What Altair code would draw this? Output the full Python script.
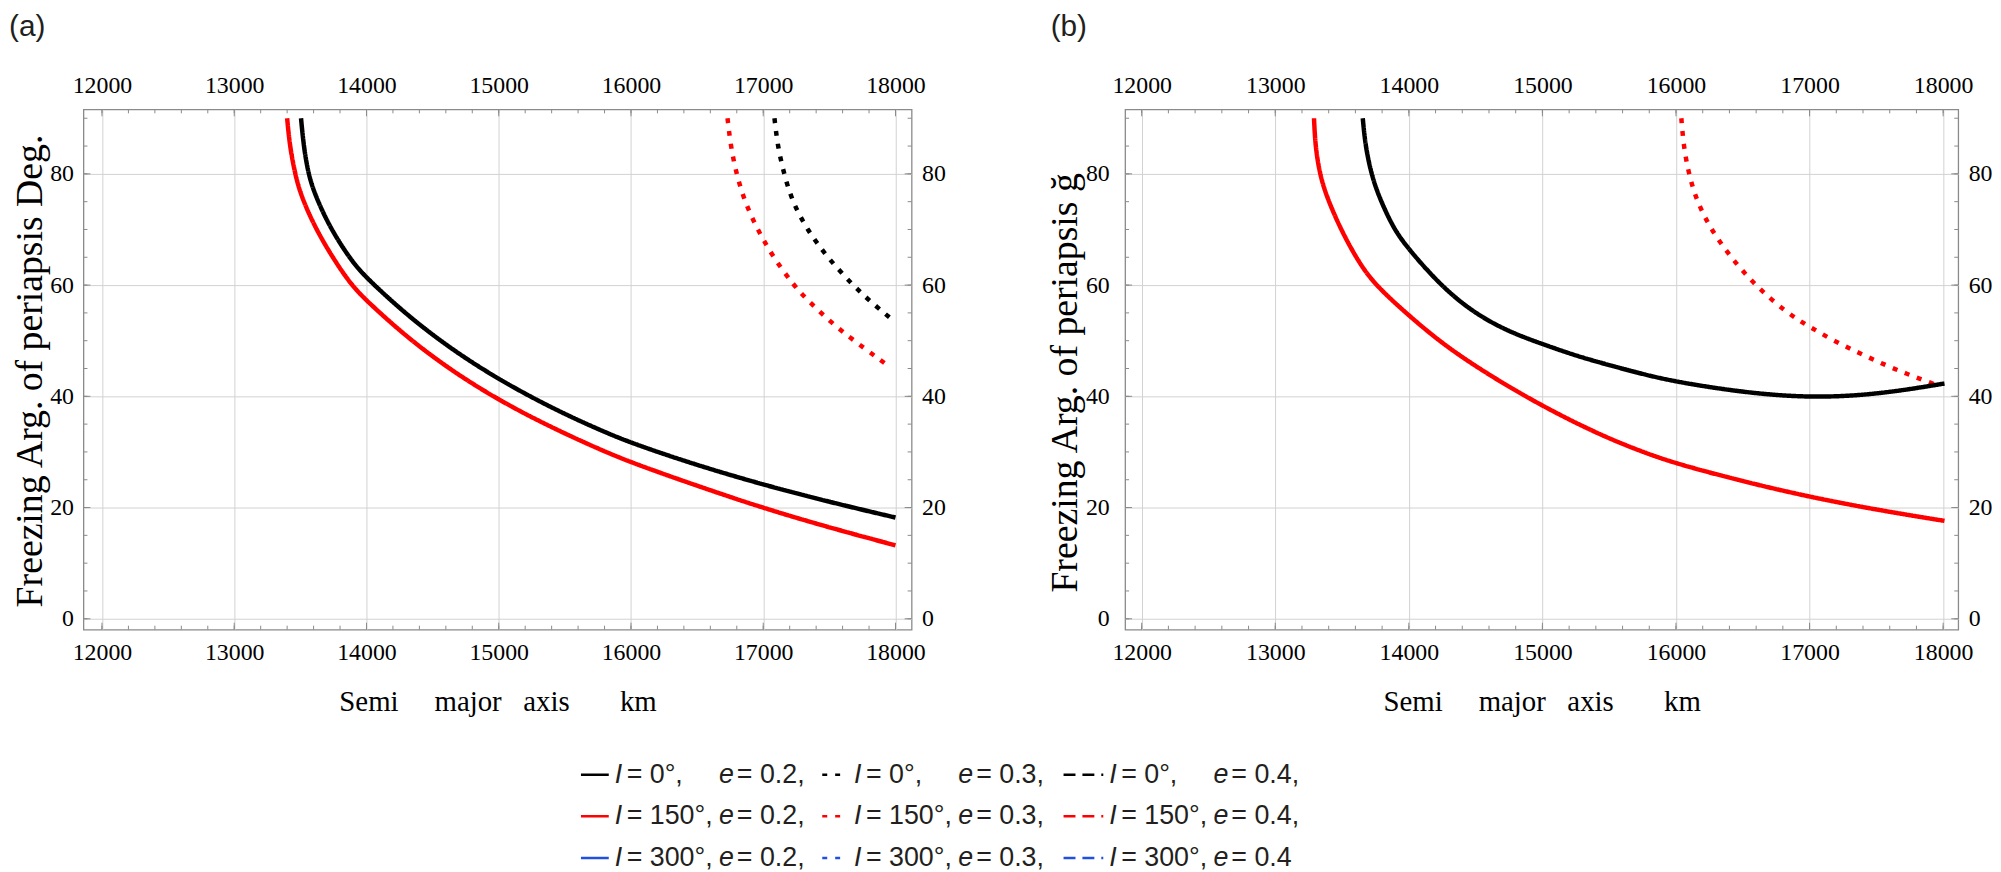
import altair as alt
import pandas as pd

# ---------------- data ----------------
# Panel (a): I = 0 deg / 150 deg, e = 0.2 (solid) and e = 0.3 (dotted)
a_I0_e02_x = [13505, 13525, 13560, 13611, 13724, 13887, 14000, 14250, 14500, 14750, 15000, 15250, 15500, 15750, 16000, 16500, 17000, 17500, 18000]
a_I0_e02_y = [90, 85, 80, 76.2, 70.3, 64.3, 61.3, 55.8, 51.0, 46.8, 43.1, 39.8, 36.8, 34.1, 31.6, 27.6, 24.1, 21.0, 18.2]
a_I150_e02_x = [13400, 13420, 13460, 13503, 13611, 13761, 13887, 14000, 14250, 14500, 14750, 15000, 15250, 15500, 15750, 16000, 16500, 17000, 17500, 18000]
a_I150_e02_y = [90, 85, 80, 76.2, 70.3, 64.3, 60, 57.2, 51.8, 47.1, 43.0, 39.4, 36.2, 33.3, 30.6, 28.1, 23.9, 19.9, 16.4, 13.2]
a_I0_e03_x = [17085, 17109, 17157, 17220, 17331, 17484, 17676, 17836, 17985]
a_I0_e03_y = [90, 85, 80, 75, 70, 65, 60, 56.5, 53.6]
a_I150_e03_x = [16730, 16754, 16797, 16860, 16956, 17076, 17229, 17330, 17552, 17773, 17955]
a_I150_e03_y = [90, 85, 80, 75, 70, 65, 60, 57.4, 52.4, 48.5, 45.3]

# Panel (b)
b_I0_e02_x = [13655, 13675, 13719, 13774, 13886, 14000, 14250, 14500, 14750, 15000, 15250, 15500, 15750, 16000, 16500, 17000, 17500, 18010]
b_I0_e02_y = [90, 85, 80, 76, 70.1, 66.4, 59.6, 54.8, 51.6, 49.4, 47.3, 45.6, 44.0, 42.6, 40.7, 39.7, 40.3, 42.3]
b_I150_e02_x = [13290, 13300, 13333, 13383, 13488, 13624, 13749, 14000, 14250, 14500, 14750, 15000, 15250, 15500, 15750, 16000, 16500, 17000, 17500, 18010]
b_I150_e02_y = [90, 85, 80, 76, 70.1, 64.1, 60, 54.5, 49.5, 45.4, 41.7, 38.3, 35.2, 32.4, 30.0, 27.9, 24.7, 21.9, 19.6, 17.6]
b_I150_e03_x = [16040, 16057, 16095, 16157, 16262, 16410, 16590, 16830, 17000, 17180, 17370, 17550, 17730, 17900, 17950]
b_I150_e03_y = [90, 85, 80, 75, 70, 65, 60, 55, 52.5, 50, 47.8, 45.8, 44, 42.5, 42.0]

I_VALUES = ["0°", "150°", "300°"]
E_VALUES = ["0.2", "0.3", "0.4"]
X_MAJOR = [12000, 13000, 14000, 15000, 16000, 17000, 18000]
Y_MAJOR = [0, 20, 40, 60, 80]
X_MINOR = list(range(12000, 18001, 200))
Y_MINOR = list(range(0, 91, 5))

PANEL_LABELS = ["(a)", "(b)"]
Y_TITLES = ["Freezing Arg. of periapsis Deg.", "Freezing Arg. of periapsis ğ"]
NB = "\u00a0"
X_TITLE = "Semi" + NB * 4 + " major" + NB * 2 + " axis" + NB * 6 + " km"

# ---------------- styles ----------------
I_COLORS = ["#000000", "#ff0000", "#2050e0"]
LINE_DASHES = [[1, 0], [5, 8], [12, 7]]
LEG_DASHES = [[1, 0], [3, 8], [9, 6]]
SERIF = "Liberation Serif, Times New Roman, serif"
SANS = "Liberation Sans Narrow, Liberation Sans, Arial"
FRAME = "#8a8a8a"
TXT = "#231f20"
TICK_FS = 24

H = 524
YDOM = [-1.96, 91.6]

rows = []
def add(panel, I, e, xs, ys):
    for i, (xv, yv) in enumerate(zip(xs, ys)):
        rows.append(dict(panel=panel, I=I, e=e, series=f"{panel}-{I}-{e}", o=i, x=xv, y=yv))

add("a", "150°", "0.2", a_I150_e02_x, a_I150_e02_y)
add("a", "0°", "0.2", a_I0_e02_x, a_I0_e02_y)
add("a", "150°", "0.3", a_I150_e03_x, a_I150_e03_y)
add("a", "0°", "0.3", a_I0_e03_x, a_I0_e03_y)
add("b", "150°", "0.2", b_I150_e02_x, b_I150_e02_y)
add("b", "150°", "0.3", b_I150_e03_x, b_I150_e03_y)
add("b", "0°", "0.2", b_I0_e02_x, b_I0_e02_y)
curves = pd.DataFrame(rows)


def tick_layers(xs, ys, W):
    out = []
    for vals, ln in [(X_MINOR, 4), (X_MAJOR, 7)]:
        df = pd.DataFrame({"v": vals})
        base = alt.Chart(df).mark_rule(color=FRAME, strokeWidth=1)
        out.append(base.encode(x=alt.X("v:Q", scale=xs, axis=None), y=alt.value(H), y2=alt.value(H - ln)))
        out.append(base.encode(x=alt.X("v:Q", scale=xs, axis=None), y=alt.value(0), y2=alt.value(ln)))
    for vals, ln in [(Y_MINOR, 4), (Y_MAJOR, 7)]:
        df = pd.DataFrame({"v": vals})
        base = alt.Chart(df).mark_rule(color=FRAME, strokeWidth=1)
        out.append(base.encode(y=alt.Y("v:Q", scale=ys, axis=None), x=alt.value(0), x2=alt.value(ln)))
        out.append(base.encode(y=alt.Y("v:Q", scale=ys, axis=None), x=alt.value(W), x2=alt.value(W - ln)))
    return out


LAB = dict(labelFont=SERIF, labelFontSize=TICK_FS, labelColor="black")


def panel(key, idx, xdom, W, lpad_left, title_x, title_y):
    xs = alt.Scale(domain=xdom, nice=False, zero=False)
    ys = alt.Scale(domain=YDOM, nice=False, zero=False)
    anchor = pd.DataFrame({"x": [xdom[0]], "y": [YDOM[0]]})
    ax1 = alt.Chart(anchor).mark_point(opacity=0, size=1).encode(
        x=alt.X("x:Q", scale=xs, axis=alt.Axis(
            orient="bottom", values=X_MAJOR, format="d", grid=True, ticks=False, domain=False,
            labelPadding=11, title=X_TITLE, titleX=W / 2, titleY=81, titleBaseline="alphabetic",
            titleAlign="center", titleFont=SERIF, titleFontSize=29, titleFontWeight="normal",
            titleColor="black", **LAB)),
        y=alt.Y("y:Q", scale=ys, axis=alt.Axis(
            orient="left", values=Y_MAJOR, grid=True, ticks=False, domain=False,
            labelPadding=lpad_left, title=Y_TITLES[idx], titleX=title_x, titleY=title_y,
            titleAngle=270, titleAlign="center", titleBaseline="alphabetic", titleFont=SERIF,
            titleFontSize=38, titleFontWeight="normal", titleColor="black", **LAB)),
    )
    ax2 = alt.Chart(anchor).mark_point(opacity=0, size=1).encode(
        x=alt.X("x:Q", scale=xs, axis=alt.Axis(
            orient="top", values=X_MAJOR, format="d", grid=False, ticks=False, domain=False,
            labelPadding=12, title="", **LAB)),
        y=alt.Y("y:Q", scale=ys, axis=alt.Axis(
            orient="right", values=Y_MAJOR, grid=False, ticks=False, domain=False,
            labelPadding=10, title="", **LAB)),
    )
    d = curves[curves.panel == key]
    lines = alt.Chart(d).mark_line(strokeWidth=4.5, interpolate="basis", strokeCap="butt").encode(
        x=alt.X("x:Q", scale=xs, axis=None),
        y=alt.Y("y:Q", scale=ys, axis=None),
        color=alt.Color("I:N", scale=alt.Scale(domain=I_VALUES, range=I_COLORS), legend=None),
        strokeDash=alt.StrokeDash("e:N", scale=alt.Scale(domain=E_VALUES, range=LINE_DASHES), legend=None),
        detail="series:N",
        order="o:Q",
    )
    lab = alt.Chart(pd.DataFrame({"t": [PANEL_LABELS[idx]]})).mark_text(
        align="left", baseline="top", font=SANS, fontSize=30, color=TXT
    ).encode(text="t:N", x=alt.value(-75), y=alt.value(-98))
    layers = [ax1, ax2] + tick_layers(xs, ys, W) + [lines, lab]
    return alt.layer(*layers).resolve_axis(x="independent", y="independent").properties(width=W, height=H)


pa = panel("a", 0, [11860, 18122], 834, 10, -42, 263)
pb = panel("b", 1, [11876, 18113], 839, 16, -49, 275)

# ---------------- legend ----------------
PITCH = 243.0
SAMPLE_LEN = [28, 26, 40]
leg = []
for r, Iv in enumerate(I_VALUES):
    for c, ev in enumerate(E_VALUES):
        last = (r == len(I_VALUES) - 1 and c == len(E_VALUES) - 1)
        x1 = c + SAMPLE_LEN[c] / PITCH
        xI = x1 + 6 / PITCH
        xe = xI + 105 / PITCH
        leg.append(dict(r=r, c=c, I=Iv, e=ev, x0=c, x1=x1, xI=xI, xe=xe,
                        ti=f"= {Iv},", te=f"= {ev}" + ("" if last else ",")))
legdf = pd.DataFrame(leg)
LX0 = 501
LX = alt.Scale(domain=[0, 3], range=[LX0, LX0 + 3 * PITCH])
LY = alt.Scale(domain=[0, 2], range=[17, 101])
lbase = alt.Chart(legdf)
LF = 27
samples = lbase.mark_rule(strokeWidth=2.5).encode(
    x=alt.X("x0:Q", scale=LX, axis=None), x2="x1:Q",
    y=alt.Y("r:Q", scale=LY, axis=None),
    color=alt.Color("I:N", scale=alt.Scale(domain=I_VALUES, range=I_COLORS), legend=None),
    strokeDash=alt.StrokeDash("e:N", scale=alt.Scale(domain=E_VALUES, range=LEG_DASHES), legend=None),
)
t_I = lbase.mark_text(align="left", baseline="middle", font=SANS, fontSize=LF, fontStyle="italic", color=TXT).encode(
    x=alt.X("xI:Q", scale=LX, axis=None), y=alt.Y("r:Q", scale=LY, axis=None), text=alt.value("I"))
t_Iv = lbase.mark_text(align="left", baseline="middle", font=SANS, fontSize=LF, dx=12, color=TXT).encode(
    x=alt.X("xI:Q", scale=LX, axis=None), y=alt.Y("r:Q", scale=LY, axis=None), text="ti:N")
t_e = lbase.mark_text(align="left", baseline="middle", font=SANS, fontSize=LF, fontStyle="italic", color=TXT).encode(
    x=alt.X("xe:Q", scale=LX, axis=None), y=alt.Y("r:Q", scale=LY, axis=None), text=alt.value("e"))
t_ev = lbase.mark_text(align="left", baseline="middle", font=SANS, fontSize=LF, dx=18, color=TXT).encode(
    x=alt.X("xe:Q", scale=LX, axis=None), y=alt.Y("r:Q", scale=LY, axis=None), text="te:N")
legend = alt.layer(samples, t_I, t_Iv, t_e, t_ev).properties(
    width=1300, height=115, view=alt.ViewBackground(stroke="transparent"))

AXCFG = dict(labelFont=SERIF, labelFontSize=TICK_FS, labelColor="black")
chart = alt.vconcat(alt.hconcat(pa, pb, spacing=100), legend, spacing=40).properties(
    padding={"left": 0, "top": 0, "right": 0, "bottom": 0}
).configure(
    style={"guide-label": {"font": SERIF, "fontSize": TICK_FS, "fill": "black"}}
).configure_view(stroke=FRAME, strokeWidth=1.3).configure_axis(
    gridColor="#d2d2d2", gridWidth=1, **AXCFG
).configure_axisX(**AXCFG).configure_axisY(**AXCFG).configure_axisTop(**AXCFG).configure_axisBottom(
    **AXCFG).configure_axisLeft(**AXCFG).configure_axisRight(**AXCFG)

chart.save("out.html", embed_options={"renderer": "svg", "actions": False})
